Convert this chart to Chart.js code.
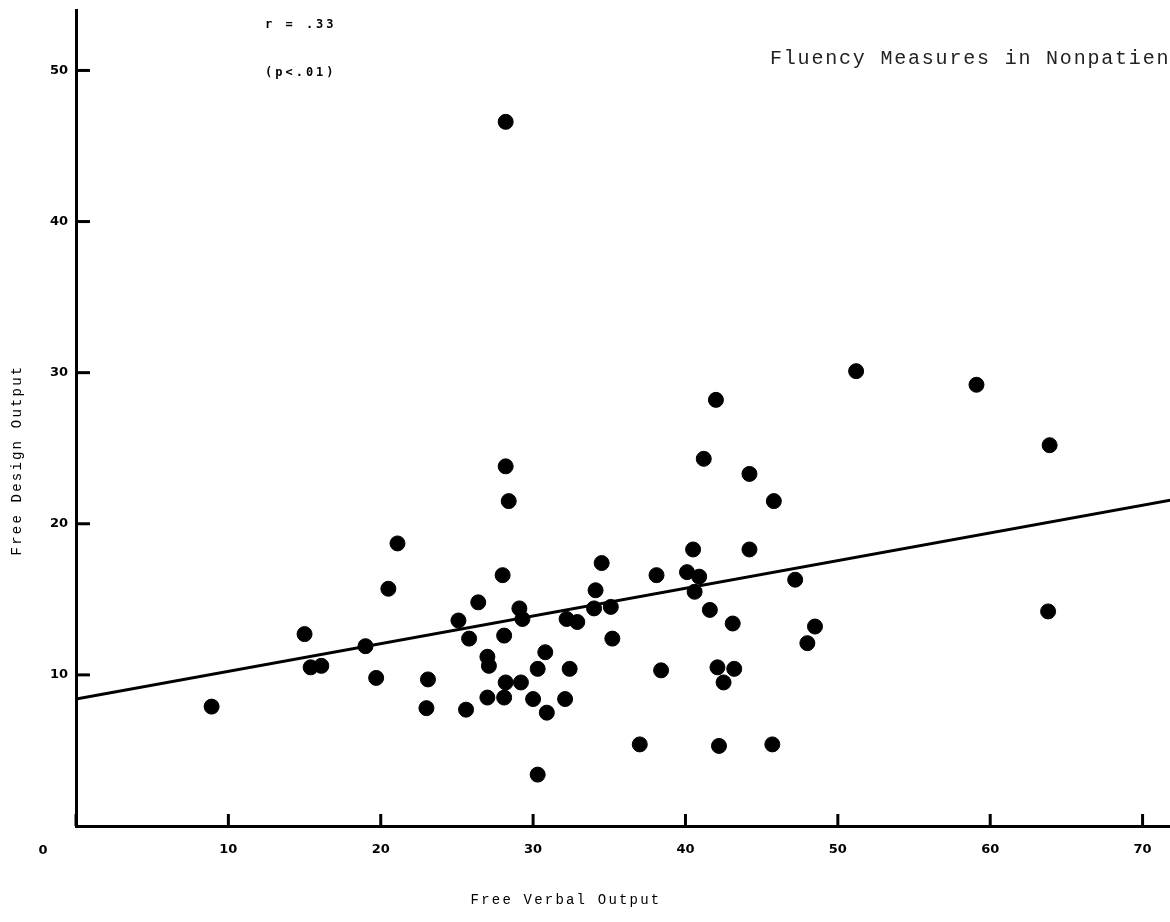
<!DOCTYPE html>
<html>
<head>
<meta charset="utf-8">
<script src="https://cdn.jsdelivr.net/npm/chart.js@4/dist/chart.umd.min.js"></script>
<style>
  html, body { margin: 0; padding: 0; background: #fff; }
  #wrap { width: 1170px; height: 922px; }
</style>
</head>
<body>
<div id="wrap"><canvas id="fluency-chart" width="1170" height="922"></canvas></div>
<script>
// Free verbal output (x) and free design output (y) for each nonpatient
const verbal = [
  8.9, 15.0, 15.4, 16.1, 19.0, 19.7, 20.5, 21.1, 23.0, 23.1,
  25.1, 25.6, 25.8, 26.4, 27.0, 27.1, 27.0, 28.0, 28.1, 28.1,
  28.2, 28.2, 28.4, 28.2, 29.1, 29.3, 29.2, 30.0, 30.3, 30.3,
  30.8, 30.9, 32.1, 32.2, 32.4, 32.9, 34.0, 34.1, 34.5, 35.1,
  35.2, 37.0, 38.1, 38.4, 40.1, 40.5, 40.6, 40.9, 41.2, 41.6,
  42.0, 42.1, 42.2, 42.5, 43.1, 43.2, 44.2, 44.2, 45.8, 45.7,
  47.2, 48.0, 48.5, 51.2, 59.1, 63.8, 63.9
];
const design = [
  7.9, 12.7, 10.5, 10.6, 11.9, 9.8, 15.7, 18.7, 7.8, 9.7,
  13.6, 7.7, 12.4, 14.8, 11.2, 10.6, 8.5, 16.6, 12.6, 8.5,
  9.5, 23.8, 21.5, 46.6, 14.4, 13.7, 9.5, 8.4, 10.4, 3.4,
  11.5, 7.5, 8.4, 13.7, 10.4, 13.5, 14.4, 15.6, 17.4, 14.5,
  12.4, 5.4, 16.6, 10.3, 16.8, 18.3, 15.5, 16.5, 24.3, 14.3,
  28.2, 10.5, 5.3, 9.5, 13.4, 10.4, 23.3, 18.3, 21.5, 5.4,
  16.3, 12.1, 13.2, 30.1, 29.2, 14.2, 25.2
];

// Regression line end points
const regX = [0, 72];
const regY = [8.4, 21.6];

const xTicks = [0, 10, 20, 30, 40, 50, 60, 70];
const yTicks = [10, 20, 30, 40, 50];

const points = verbal.map((v, i) => ({ x: v, y: design[i] }));
const regLine = regX.map((v, i) => ({ x: v, y: regY[i] }));

// Inward tick marks, annotations and typed labels
const paperPlugin = {
  id: 'paper',
  afterDraw(chart) {
    const ctx = chart.ctx;
    const xs = chart.scales.x;
    const ys = chart.scales.y;
    const area = chart.chartArea;

    ctx.save();
    ctx.strokeStyle = '#000';
    ctx.lineWidth = 3;
    yTicks.forEach(v => {
      const y = ys.getPixelForValue(v);
      ctx.beginPath();
      ctx.moveTo(area.left, y);
      ctx.lineTo(area.left + 14, y);
      ctx.stroke();
    });
    xTicks.forEach(v => {
      const x = xs.getPixelForValue(v);
      ctx.beginPath();
      ctx.moveTo(x, area.bottom);
      ctx.lineTo(x, area.bottom - 12);
      ctx.stroke();
    });

    ctx.fillStyle = '#000';
    ctx.textBaseline = 'middle';
    ctx.textAlign = 'center';
    ctx.font = 'bold 13px "DejaVu Sans"';
    ctx.fillText('0', 43, 851);

    ctx.textAlign = 'left';
    ctx.font = 'bold 12px "DejaVu Sans Mono"';
    ctx.letterSpacing = '3px';
    ctx.fillText('r = .33', 265, 25);
    ctx.fillText('(p<.01)', 265, 73);

    ctx.font = '20px "Liberation Mono"';
    ctx.letterSpacing = '1.8px';
    ctx.fillStyle = '#222';
    ctx.fillText('Fluency Measures in Nonpatients', 770, 59);

    ctx.font = '14px "Liberation Mono"';
    ctx.letterSpacing = '2.2px';
    ctx.fillStyle = '#000';
    ctx.textAlign = 'center';
    ctx.fillText('Free Verbal Output', 566, 900);

    ctx.translate(17, 460);
    ctx.rotate(-Math.PI / 2);
    ctx.fillText('Free Design Output', 0, 0);
    ctx.restore();
  }
};

new Chart(document.getElementById('fluency-chart'), {
  type: 'scatter',
  data: {
    datasets: [
      {
        label: 'Nonpatients',
        data: points,
        backgroundColor: '#000',
        borderColor: '#000',
        pointRadius: 7.5,
        pointHoverRadius: 7.5
      },
      {
        label: 'Regression',
        data: regLine,
        showLine: true,
        borderColor: '#000',
        borderWidth: 3,
        pointRadius: 0,
        fill: false
      }
    ]
  },
  options: {
    responsive: false,
    animation: false,
    layout: {
      autoPadding: false,
      padding: { top: 10, right: 0, left: 0, bottom: 0 }
    },
    plugins: {
      legend: { display: false },
      tooltip: { enabled: false }
    },
    scales: {
      x: {
        type: 'linear',
        min: 0,
        max: 71.8,
        afterFit(scale) {
          scale.height = 96;
          scale.paddingLeft = 0;
          scale.paddingRight = 0;
        },
        grid: { display: false, drawTicks: false },
        border: { display: true, color: '#000', width: 3 },
        ticks: {
          stepSize: 10,
          includeBounds: false,
          maxRotation: 0,
          padding: 16,
          color: '#000',
          font: { family: 'DejaVu Sans', size: 13, weight: 'bold' },
          callback: v => (v % 10 === 0 && v !== 0 ? v : '')
        }
      },
      y: {
        type: 'linear',
        min: 0,
        max: 54,
        afterFit(scale) {
          scale.width = 76;
          scale.paddingTop = 0;
          scale.paddingBottom = 0;
        },
        grid: { display: false, drawTicks: false },
        border: { display: true, color: '#000', width: 3 },
        ticks: {
          stepSize: 10,
          includeBounds: false,
          padding: 8,
          color: '#000',
          font: { family: 'DejaVu Sans', size: 13, weight: 'bold' },
          callback: v => (v % 10 === 0 && v !== 0 ? v : '')
        }
      }
    }
  },
  plugins: [paperPlugin]
});
</script>
</body>
</html>
